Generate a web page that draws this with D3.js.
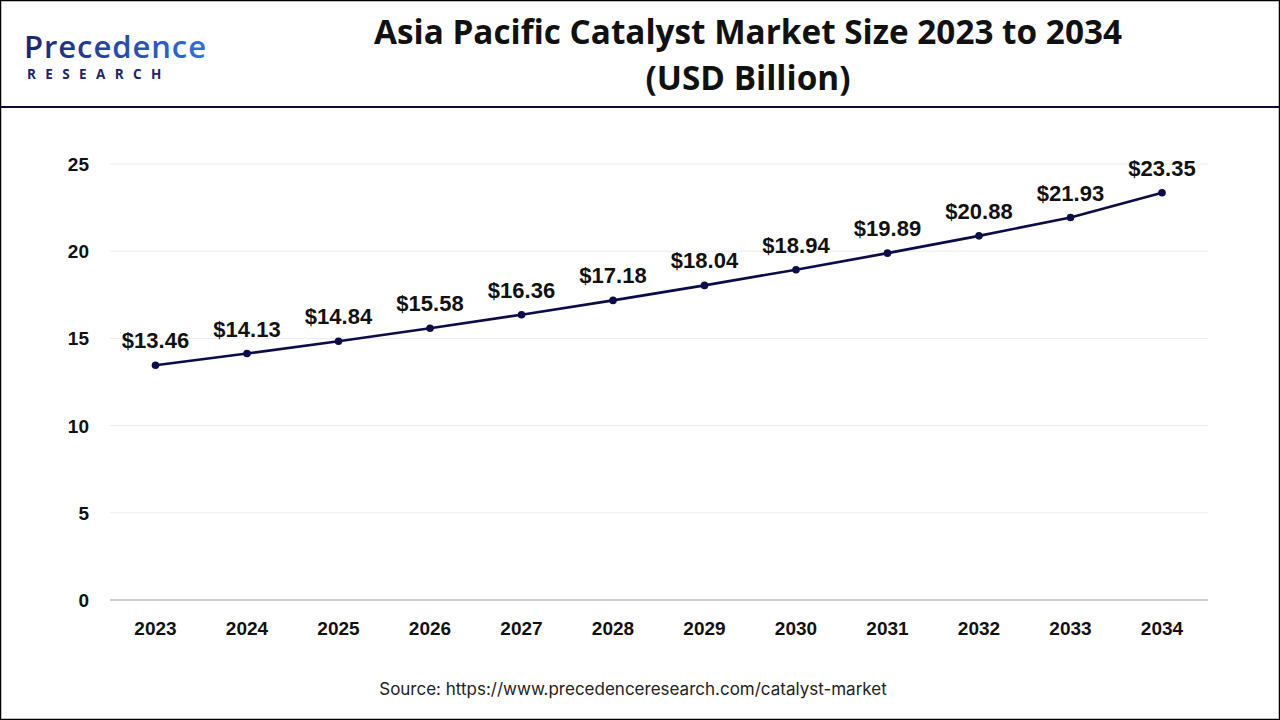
<!DOCTYPE html>
<html><head><meta charset="utf-8">
<script src="https://cdn.jsdelivr.net/npm/d3@7/dist/d3.min.js"></script>
<style>body{margin:0;background:#fff;}svg{display:block;}</style>
</head><body>
<svg id="c" width="1280" height="720"></svg>
<script>
const years = ["2023","2024","2025","2026","2027","2028","2029","2030","2031","2032","2033","2034"];
const values = [13.46,14.13,14.84,15.58,16.36,17.18,18.04,18.94,19.89,20.88,21.93,23.35];
const yTicks = [0,5,10,15,20,25];
const titleLines = ["Asia Pacific Catalyst Market Size 2023 to 2034","(USD Billion)"];
const sourceText = "Source: https://www.precedenceresearch.com/catalyst-market";

const svg = d3.select("#c");
svg.append("rect").attr("x",0.5).attr("y",0.5).attr("width",1279).attr("height",719).attr("fill","#fff").attr("stroke","#000").attr("stroke-width",1.5);
svg.append("line").attr("x1",0).attr("x2",1280).attr("y1",107).attr("y2",107).attr("stroke","#0b0b2e").attr("stroke-width",2);

// logo
const defs = svg.append("defs");
const g = defs.append("linearGradient").attr("id","lg").attr("x1","0").attr("x2","1");
g.append("stop").attr("offset","0").attr("stop-color","#1a2470");
g.append("stop").attr("offset","1").attr("stop-color","#2f6fe0");
svg.append("text").attr("x",24).attr("y",58).attr("font-family","'Open Sans', sans-serif").attr("font-size",31).attr("font-weight",600).attr("fill","url(#lg)").attr("textLength",182).text("Precedence");
svg.append("text").attr("x",27).attr("y",79).attr("font-family","'Open Sans', sans-serif").attr("font-size",13.5).attr("font-weight",700).attr("fill","#1b2470").attr("letter-spacing",9.4).text("RESEARCH");

// title
svg.append("g").selectAll("text").data(titleLines).join("text")
  .attr("x",748).attr("y",(d,i)=>44+i*46).attr("text-anchor","middle")
  .attr("font-family","'Open Sans', 'Noto Sans', sans-serif").attr("font-weight",700).attr("font-size",33.3).attr("fill","#111")
  .text(d=>d);

const x = d3.scalePoint().domain(years).range([155.5,1162]);
const y = d3.scaleLinear().domain([0,25]).range([600,164]);

// grid
svg.append("g").selectAll("line").data(yTicks.filter(t=>t>0)).join("line")
  .attr("x1",110).attr("x2",1208).attr("y1",d=>y(d)).attr("y2",d=>y(d)).attr("stroke","#ebebeb").attr("stroke-width",1);
svg.append("line").attr("x1",110).attr("x2",1208).attr("y1",y(0)).attr("y2",y(0)).attr("stroke","#bdbdbd").attr("stroke-width",1.5);

const font = "'Liberation Sans', Arial, sans-serif";
svg.append("g").selectAll("text").data(yTicks).join("text")
  .attr("x",89).attr("y",d=>y(d)+7).attr("text-anchor","end")
  .attr("font-family",font).attr("font-weight",700).attr("font-size",19).attr("fill","#111").text(d=>d);
svg.append("g").selectAll("text").data(years).join("text")
  .attr("x",d=>x(d)).attr("y",635).attr("text-anchor","middle")
  .attr("font-family",font).attr("font-weight",700).attr("font-size",19).attr("fill","#111").text(d=>d);

const data = years.map((yr,i)=>({yr,v:values[i]}));
svg.append("path").datum(data).attr("fill","none").attr("stroke","#0c0c4a").attr("stroke-width",2.6)
  .attr("d",d3.line().x(d=>x(d.yr)).y(d=>y(d.v)));
svg.append("g").selectAll("circle").data(data).join("circle")
  .attr("cx",d=>x(d.yr)).attr("cy",d=>y(d.v)).attr("r",3.8).attr("fill","#0c0c4a");
svg.append("g").selectAll("text").data(data).join("text")
  .attr("x",d=>x(d.yr)).attr("y",d=>y(d.v)-17).attr("text-anchor","middle")
  .attr("font-family",font).attr("font-weight",700).attr("font-size",22).attr("fill","#111").text(d=>"$"+d.v.toFixed(2));

svg.append("text").attr("x",633).attr("y",695).attr("text-anchor","middle")
  .attr("font-family","Inter, 'Open Sans', sans-serif").attr("font-size",17).attr("fill","#222").text(sourceText);
</script>
</body></html>
